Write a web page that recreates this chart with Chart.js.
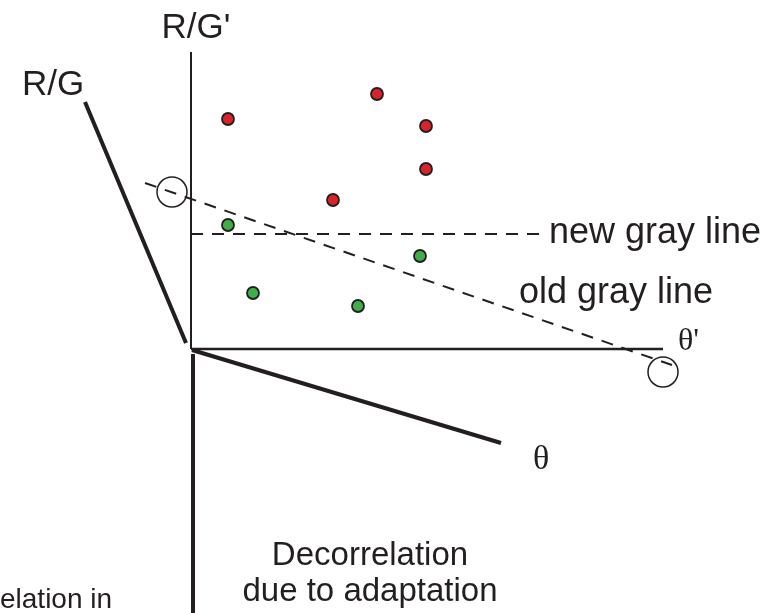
<!DOCTYPE html>
<html>
<head>
<meta charset="utf-8">
<title>Decorrelation due to adaptation</title>
<script src="https://cdn.jsdelivr.net/npm/chart.js@4.4.1/dist/chart.umd.min.js"></script>
<style>
  html, body { margin: 0; padding: 0; background: #fff; }
  #wrap { width: 774px; height: 613px; }
</style>
</head>
<body>
<div id="wrap"><canvas id="diagram" width="774" height="613"></canvas></div>
<script>
// Titik-titik warna (koordinat relatif ke titik asal sumbu)
const redX = [37, 186, 235, 235, 142];
const redY = [230, 255, 223, 180, 149];
const greenX = [37, 229, 62, 167];
const greenY = [124, 93, 56, 43];

// Ujung-ujung garis
const axisRGPrime = [[0, 0], [0, 297]];
const axisThetaPrime = [[0, 0], [472, 0]];
const axisRG = [[-5, 6], [-106, 247]];
const axisTheta = [[1, -1], [310, -94]];
const axisDown = [[2, -5], [2, -264]];
const newGrayLine = [[0, 115], [349, 115]];
const oldGrayLine = [[-46, 166], [481, -16]];

// Lingkaran penanda di ujung garis abu-abu lama
const ringX = [-19, 472];
const ringY = [157, -23];

const ink = '#231f20';
const sans = "'Liberation Sans', Arial, Helvetica, sans-serif";
const serif = "'Liberation Serif', 'Times New Roman', serif";

const toPoints = (xs, ys) => xs.map((x, i) => ({ x: x, y: ys[i] }));
const toLine = (pair) => pair.map(p => ({ x: p[0], y: p[1] }));

function lineSet(pair, width, dash) {
    return {
        data: toLine(pair),
        showLine: true,
        borderColor: ink,
        borderWidth: width,
        borderDash: dash || [],
        pointRadius: 0,
        fill: false,
        clip: false
    };
}

// Label teks
const labels = [
    { text: "R/G'", x: 5, y: 311, font: '35px ' + sans, align: 'center' },
    { text: 'R/G', x: -169, y: 254, font: '35px ' + sans, align: 'left' },
    { text: 'new gray line', x: 358, y: 106, font: '36px ' + sans, align: 'left' },
    { text: 'old gray line', x: 328, y: 46, font: '36px ' + sans, align: 'left' },
    { text: "\u03b8'", x: 487, y: -1, font: '32px ' + serif, align: 'left' },
    { text: '\u03b8', x: 342, y: -120, font: '34px ' + serif, align: 'left' },
    { text: 'Decorrelation', x: 179, y: -216, font: '33px ' + sans, align: 'center' },
    { text: 'due to adaptation', x: 179, y: -252, font: '33px ' + sans, align: 'center' },
    { text: 'elation in', x: -191, y: -259, font: '28px ' + sans, align: 'left' }
];

const textPlugin = {
    id: 'diagramText',
    afterDatasetsDraw(chart) {
        const c = chart.ctx;
        const sx = chart.scales.x, sy = chart.scales.y;
        c.save();
        c.fillStyle = ink;
        c.textBaseline = 'alphabetic';
        labels.forEach(l => {
            c.font = l.font;
            c.textAlign = l.align;
            c.fillText(l.text, sx.getPixelForValue(l.x), sy.getPixelForValue(l.y));
        });
        c.restore();
    }
};

const ctx = document.getElementById('diagram').getContext('2d');

const diagram = new Chart(ctx, {
    type: 'scatter',
    data: {
        datasets: [
            lineSet(axisRGPrime, 2),
            lineSet(axisThetaPrime, 2.5),
            lineSet(axisRG, 4),
            lineSet(axisTheta, 4),
            lineSet(axisDown, 4),
            lineSet(newGrayLine, 2, [12, 9]),
            lineSet(oldGrayLine, 2, [12, 9]),
            {
                data: toPoints(ringX, ringY),
                pointRadius: 15,
                pointBackgroundColor: 'rgba(0,0,0,0)',
                pointBorderColor: ink,
                pointBorderWidth: 1.5,
                clip: false
            },
            {
                data: toPoints(redX, redY),
                pointRadius: 6,
                pointBackgroundColor: '#d7242b',
                pointBorderColor: ink,
                pointBorderWidth: 1.8,
                clip: false
            },
            {
                data: toPoints(greenX, greenY),
                pointRadius: 6,
                pointBackgroundColor: '#3fae49',
                pointBorderColor: ink,
                pointBorderWidth: 1.8,
                clip: false
            }
        ]
    },
    options: {
        responsive: false,
        animation: false,
        layout: { padding: 0, autoPadding: false },
        plugins: { legend: { display: false }, tooltip: { enabled: false } },
        scales: {
            x: { type: 'linear', min: -191, max: 583, display: false },
            y: { type: 'linear', min: -264, max: 349, display: false }
        }
    },
    plugins: [textPlugin]
});
</script>
</body>
</html>
